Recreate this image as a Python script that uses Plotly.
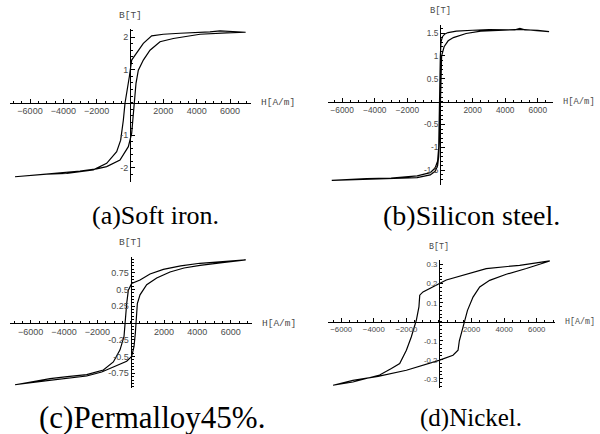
import plotly.graph_objects as go

W, H = 600, 434

# ---------------- data ----------------
# (a) Soft iron
iron_H_down = [6940, 6200, 5400, 4800, 3800, 3000, 2000, 1300, 800, 500, 200, 100, -40, -200, -300, -400, -560, -800, -1400, -2200, -3800, -5000, -6900]
iron_B_down = [2.15, 2.17, 2.19, 2.16, 2.15, 2.12, 2.09, 2.04, 1.81, 1.60, 1.40, 1.30, 0.79, 0.28, -0.02, -0.54, -1.15, -1.50, -1.86, -2.06, -2.17, -2.19, -2.27]
iron_H_up = [-6900, -5000, -3000, -2000, -1400, -600, -100, 100, 200, 260, 360, 500, 800, 1200, 1800, 2600, 4200, 5800, 6940]
iron_B_up = [-2.27, -2.17, -2.10, -2.03, -1.96, -1.76, -1.35, -0.94, -0.43, 0.08, 0.59, 0.99, 1.30, 1.60, 1.86, 1.96, 2.09, 2.13, 2.15]

# (b) Silicon steel
si_H_down = [6690, 6000, 5200, 4900, 4600, 3000, 2000, 1000, 500, 300, 150, 60, 20, 0, -20, -40, -80, -150, -300, -600, -1400, -3000, -4500, -6640]
si_B_down = [1.53, 1.56, 1.57, 1.60, 1.57, 1.575, 1.56, 1.54, 1.51, 1.48, 1.42, 1.30, 1.00, 0.50, 0.00, -0.50, -1.00, -1.30, -1.45, -1.55, -1.62, -1.67, -1.68, -1.72]
si_H_up = [-6640, -4500, -3000, -1400, -600, -300, -150, -80, -40, 0, 20, 50, 100, 250, 500, 820, 1600, 2500, 4000, 5000, 6690]
si_B_up = [-1.72, -1.70, -1.69, -1.66, -1.60, -1.52, -1.40, -1.20, -0.90, -0.30, 0.20, 0.70, 1.00, 1.20, 1.33, 1.40, 1.49, 1.54, 1.57, 1.58, 1.53]

# (c) Permalloy 45%
pm_H_down = [6900, 5500, 4150, 3000, 1960, 1160, 560, 60, -140, -240, -320, -400, -640, -1040, -1640, -2640, -3800, -4840, -6000, -6940]
pm_B_down = [0.94, 0.92, 0.89, 0.85, 0.80, 0.73, 0.64, 0.59, 0.49, 0.29, 0.02, -0.20, -0.40, -0.58, -0.70, -0.77, -0.80, -0.83, -0.88, -0.92]
pm_H_up = [-6940, -5000, -3840, -2640, -1740, -1040, -240, 60, 200, 280, 320, 400, 560, 960, 1560, 2360, 3200, 4160, 5500, 6900]
pm_B_up = [-0.92, -0.86, -0.83, -0.79, -0.73, -0.65, -0.57, -0.50, -0.35, -0.15, 0.00, 0.29, 0.42, 0.57, 0.67, 0.76, 0.82, 0.86, 0.90, 0.94]

# (d) Nickel
ni_H_down = [6800, 4950, 2900, 860, 450, 0, -370, -980, -1180, -1230, -1390, -1700, -2000, -2410, -2920, -3640, -5280, -6500]
ni_B_down = [0.320, 0.297, 0.280, 0.233, 0.220, 0.200, 0.183, 0.157, 0.140, 0.078, 0.008, -0.080, -0.150, -0.220, -0.246, -0.280, -0.317, -0.334]
ni_H_up = [-6500, -5280, -3740, -2000, 0, 860, 1170, 1250, 1400, 1550, 1750, 2090, 2500, 3110, 4130, 5360, 6800]
ni_B_up = [-0.334, -0.308, -0.287, -0.255, -0.203, -0.176, -0.150, -0.100, -0.050, 0.000, 0.060, 0.130, 0.183, 0.218, 0.250, 0.280, 0.320]

x_ticks = [-6000, -4000, -2000, 2000, 4000, 6000]
iron_y_ticks = [-2, -1, 1, 2]
si_y_ticks = [-1.5, -1, -0.5, 0.5, 1, 1.5]
pm_y_ticks = [-0.75, -0.5, -0.25, 0.25, 0.5, 0.75]
ni_y_ticks = [-0.3, -0.2, -0.1, 0.1, 0.2, 0.3]

captions = ["(a)Soft iron.", "(b)Silicon steel.", "(c)Permalloy45%.", "(d)Nickel."]

# ---------------- layout per panel (pixels) ----------------
panels = [
    dict(H=iron_H_down + iron_H_up, B=iron_B_down + iron_B_up, yt=iron_y_ticks,
         px=(10, 251), py=(29, 182), xr=(-7200, 7260), yr=(-2.43, 2.25), ymin=0.2,
         fs=9, cap=(155, 215), capfs=26),
    dict(H=si_H_down + si_H_up, B=si_B_down + si_B_up, yt=si_y_ticks,
         px=(328, 553), py=(25, 185), xr=(-6870, 6930), yr=(-1.82, 1.675), ymin=0.1,
         fs=8.3, cap=(471, 215), capfs=28),
    dict(H=pm_H_down + pm_H_up, B=pm_B_down + pm_B_up, yt=pm_y_ticks,
         px=(10, 251.7), py=(256.7, 388.3), xr=(-7240, 7260), yr=(-0.973, 0.988), ymin=0.05,
         fs=9, cap=(152, 417), capfs=31),
    dict(H=ni_H_down + ni_H_up, B=ni_B_down + ni_B_up, yt=ni_y_ticks,
         px=(328, 555), py=(260, 388.3), xr=(-6810, 7120), yr=(-0.35, 0.325), ymin=0.02,
         fs=7.8, cap=(471, 418), capfs=25),
]

fig = go.Figure()
annotations = []
layout = dict(width=W, height=H, margin=dict(l=0, r=0, t=0, b=0),
              paper_bgcolor="white", plot_bgcolor="white", showlegend=False)

tick_font_col = "#4a4a4a"
for i, p in enumerate(panels):
    n = "" if i == 0 else str(i + 1)
    xa, ya = "x" + n, "y" + n
    fig.add_trace(go.Scatter(x=p["H"], y=p["B"], mode="lines", xaxis=xa, yaxis=ya,
                             line=dict(color="black", width=1.2), hoverinfo="skip"))
    x0, x1 = p["px"]
    yt, yb = p["py"]
    xr, yr = p["xr"], p["yr"]
    ox = x0 + (0 - xr[0]) / (xr[1] - xr[0]) * (x1 - x0)
    oy = yb - (0 - yr[0]) / (yr[1] - yr[0]) * (yb - yt)
    layout["xaxis" + n] = dict(
        domain=[x0 / W, x1 / W], range=list(xr), anchor="free", position=1 - oy / H,
        showgrid=False, zeroline=False, showline=True, linecolor="black", linewidth=1,
        tickmode="array", tickvals=x_ticks, ticks="inside", ticklen=3.5, tickcolor="black",
        tickwidth=1, tickfont=dict(family="Liberation Sans, Arial", size=p["fs"], color=tick_font_col),
        minor=dict(tickmode="linear", tick0=0, dtick=500, ticks="inside", ticklen=2,
                   tickcolor="black", tickwidth=1),
        fixedrange=True,
    )
    layout["yaxis" + n] = dict(
        domain=[1 - yb / H, 1 - yt / H], range=list(yr), anchor="free", position=ox / W,
        showgrid=False, zeroline=False, showline=True, linecolor="black", linewidth=1,
        tickmode="array", tickvals=p["yt"], ticktext=[("%g" % v) for v in p["yt"]],
        ticks="inside", ticklen=3.5, tickcolor="black", tickwidth=1,
        tickfont=dict(family="Liberation Sans, Arial", size=p["fs"], color=tick_font_col),
        minor=dict(tickmode="linear", tick0=0, dtick=p["ymin"], ticks="inside", ticklen=2,
                   tickcolor="black", tickwidth=1),
        fixedrange=True,
    )
    annotations.append(dict(text="H[A/m]", xref="paper", yref="paper",
                            x=(x1 + 8) / W, y=1 - oy / H, xanchor="left", yanchor="middle",
                            showarrow=False,
                            font=dict(family="Liberation Mono, Courier New", size=p["fs"] + 0.5,
                                      color=tick_font_col)))
    annotations.append(dict(text="B[T]", xref="paper", yref="paper",
                            x=ox / W, y=1 - (yt - 14) / H, xanchor="center", yanchor="middle",
                            showarrow=False,
                            font=dict(family="Liberation Mono, Courier New", size=p["fs"] + 0.5,
                                      color=tick_font_col)))
    annotations.append(dict(text=captions[i], xref="paper", yref="paper",
                            x=p["cap"][0] / W, y=1 - p["cap"][1] / H, xanchor="center",
                            yanchor="middle", showarrow=False,
                            font=dict(family="Liberation Serif, Times New Roman",
                                      size=p["capfs"], color="black")))

layout["annotations"] = annotations
fig.update_layout(**layout)
fig.write_html("out.html", config={"displayModeBar": False},
               post_script="document.body.style.margin='0px';document.body.style.overflow='hidden';")
